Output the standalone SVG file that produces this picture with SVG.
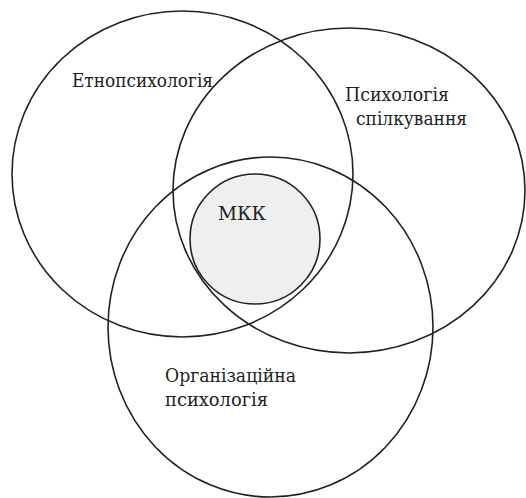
<svg xmlns="http://www.w3.org/2000/svg" width="526" height="498" viewBox="0 0 526 498">
<style>
.c{fill:none;stroke:#222;stroke-width:1.6}
.core{fill:#efefef;stroke:#222;stroke-width:1.6}
.t{font-family:'DejaVu Serif',serif;font-size:19px;fill:#222}
</style>
<rect width="526" height="498" fill="#fff"/>
<g id="core"><ellipse class="core" cx="255" cy="239" rx="65" ry="65"/></g>
<g id="ethno"><ellipse class="c" cx="182.5" cy="174" rx="170.5" ry="163"/><text class="t" x="72" y="87" textLength="141" lengthAdjust="spacingAndGlyphs">Етнопсихологія</text></g>
<g id="comm"><ellipse class="c" cx="349" cy="190.5" rx="176" ry="162.5"/><text class="t" x="345" y="101" textLength="104" lengthAdjust="spacingAndGlyphs">Психологія</text><text class="t" x="356" y="125" textLength="111" lengthAdjust="spacingAndGlyphs">спілкування</text></g>
<g id="org"><ellipse class="c" cx="270.5" cy="327" rx="162.5" ry="170"/><text class="t" x="165" y="382" textLength="131" lengthAdjust="spacingAndGlyphs">Організаційна</text><text class="t" x="165" y="406" textLength="103" lengthAdjust="spacingAndGlyphs">психологія</text></g>
<g id="label"><text class="t" x="218" y="220" textLength="48" lengthAdjust="spacingAndGlyphs">МКК</text></g>
<g id="connectors"/>
</svg>
